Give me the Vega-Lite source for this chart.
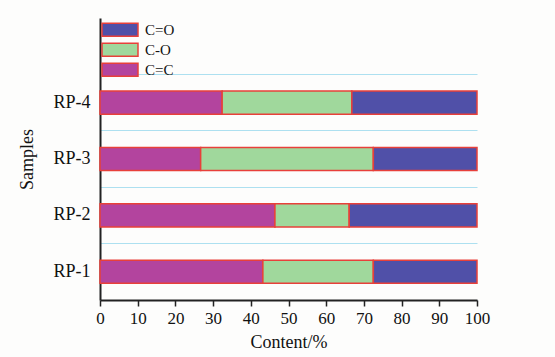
{
  "$schema": "https://vega.github.io/schema/vega-lite/v6.json",
  "width": 377,
  "height": 282,
  "autosize": {"type": "none"},
  "padding": {"left": 100, "top": 18, "right": 78, "bottom": 57},
  "background": "#fdfdfc",
  "config": {
    "view": {"stroke": null},
    "font": "Liberation Serif",
    "axis": {"labelFont": "Liberation Serif", "titleFont": "Liberation Serif"}
  },
  "data": {
    "values": [
      {"sample": "RP-1", "type": "C=C", "value": 43.2, "k": 1},
      {"sample": "RP-1", "type": "C-O", "value": 29.3, "k": 2},
      {"sample": "RP-1", "type": "C=O", "value": 27.5, "k": 3},
      {"sample": "RP-2", "type": "C=C", "value": 46.4, "k": 1},
      {"sample": "RP-2", "type": "C-O", "value": 19.7, "k": 2},
      {"sample": "RP-2", "type": "C=O", "value": 33.9, "k": 3},
      {"sample": "RP-3", "type": "C=C", "value": 26.7, "k": 1},
      {"sample": "RP-3", "type": "C-O", "value": 45.8, "k": 2},
      {"sample": "RP-3", "type": "C=O", "value": 27.5, "k": 3},
      {"sample": "RP-4", "type": "C=C", "value": 32.4, "k": 1},
      {"sample": "RP-4", "type": "C-O", "value": 34.4, "k": 2},
      {"sample": "RP-4", "type": "C=O", "value": 33.2, "k": 3}
    ]
  },
  "mark": {"type": "bar", "stroke": "#e8403a", "strokeWidth": 1.5},
  "encoding": {
    "y": {
      "field": "sample",
      "type": "nominal",
      "scale": {"domain": ["", "RP-4", "RP-3", "RP-2", "RP-1"], "paddingInner": 0.59, "paddingOuter": 0.295},
      "axis": {
        "title": "Samples",
        "titleFontSize": 18,
        "titleFontWeight": "normal",
        "titleColor": "#111",
        "titlePadding": 16,
        "labelFontSize": 18,
        "labelColor": "#111",
        "ticks": false,
        "labelPadding": 10,
        "domainColor": "#222",
        "domainWidth": 2,
        "grid": true,
        "gridColor": "#ade0f0",
        "gridWidth": 1,
        "bandPosition": 1.726
      }
    },
    "x": {
      "field": "value",
      "type": "quantitative",
      "stack": "zero",
      "scale": {"domain": [0, 100], "nice": false},
      "axis": {
        "title": "Content/%",
        "values": [0, 10, 20, 30, 40, 50, 60, 70, 80, 90, 100],
        "grid": false,
        "titleFontSize": 18,
        "titleFontWeight": "normal",
        "titleColor": "#111",
        "titlePadding": 7,
        "labelFontSize": 17,
        "labelColor": "#111",
        "labelPadding": 4,
        "labelFlush": false,
        "tickSize": 6,
        "tickColor": "#222",
        "tickWidth": 1.5,
        "domainColor": "#222",
        "domainWidth": 2
      }
    },
    "color": {
      "field": "type",
      "type": "nominal",
      "scale": {"domain": ["C=O", "C-O", "C=C"], "range": ["#5050a8", "#a0d89c", "#b3449e"]},
      "legend": {
        "orient": "none",
        "legendX": 1,
        "legendY": 2,
        "title": null,
        "padding": 0,
        "symbolType": "M-1,-0.36H1V0.36H-1Z",
        "symbolSize": 1296,
        "clipHeight": 19.5,
        "rowPadding": 0,
        "labelOffset": 6,
        "labelFontSize": 15,
        "labelFont": "Liberation Serif",
        "labelColor": "#111",
        "symbolStrokeColor": "#e8403a",
        "symbolStrokeWidth": 1.5,
        "symbolOpacity": 1
      }
    },
    "order": {"field": "k", "type": "quantitative"}
  }
}
